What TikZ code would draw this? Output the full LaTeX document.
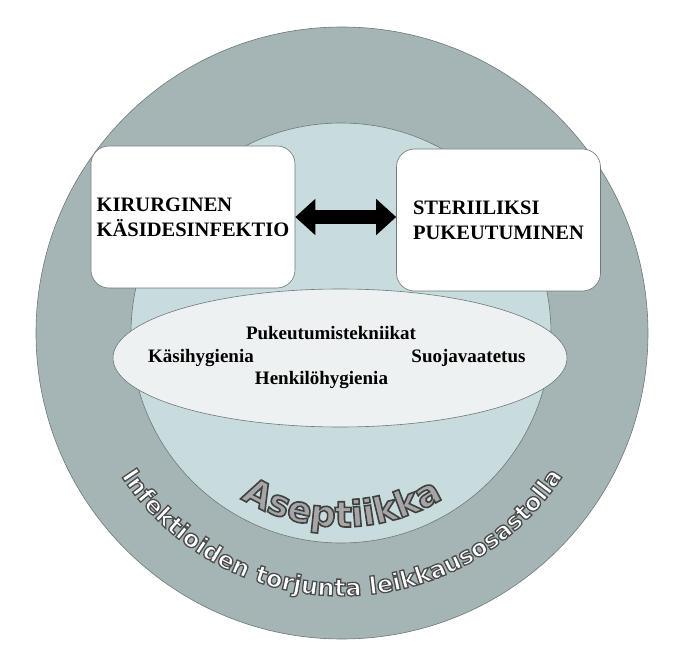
\documentclass[tikz,border=0pt]{standalone}
\usepackage{fontspec}
\setmainfont{Liberation Serif}
\newfontfamily\arcfont{DejaVu Sans}
\usetikzlibrary{arrows.meta,decorations.text}
\definecolor{ringgray}{HTML}{A5B5B5}
\definecolor{innerblue}{HTML}{C8DCDE}
\definecolor{ovalgray}{HTML}{EDF1F1}
\definecolor{edgegray}{HTML}{6E7878}
\definecolor{letterfill}{HTML}{A6A6A6}
\newcommand{\outlinedark}{\special{pdf:literal direct 2 Tr 1.6 w 0.25 0.25 0.25 RG}}
\newcommand{\outlinelight}{\special{pdf:literal direct 2 Tr 1.3 w 0.3 0.3 0.3 RG}}
\begin{document}
\begin{tikzpicture}[x=1pt, y=1pt,
    ring/.style={draw=edgegray, line width=0.6pt},
    topicbox/.style={ring, fill=white, rounded corners=18pt, align=left, minimum width=204pt, minimum height=142pt, font=\bfseries\fontsize{20.5}{25}\selectfont},
    topic/.style={anchor=base, font=\bfseries\fontsize{19}{21}\selectfont}]
    \useasboundingbox (-342,-339) rectangle (352,333);
    \draw[ring, fill=ringgray] (0,0) circle[radius=306];
    \draw[ring, fill=innerblue] (-1,0) circle[radius=210];
    \draw[ring, fill=ovalgray] (-2,-25) ellipse[x radius=227, y radius=69];
    \node[topicbox] (kir) at (-149,116) {KIRURGINEN\\KÄSIDESINFEKTIO};
    \node[topicbox] (ster) at (156.5,113) {STERIILIKSI\\PUKEUTUMINEN};
    \draw[line width=14pt, {Triangle[length=20pt,width=35pt]}-{Triangle[length=20pt,width=35pt]}] (kir.east) -- (kir.east -| ster.west);
    \node[topic] (puk) at (-11,-6) {Pukeutumistekniikat};
    \node[topic] (kasi) at (-141,-30) {Käsihygienia};
    \node[topic] (suoja) at (126.5,-30) {Suojavaatetus};
    \node[topic] (henk) at (-20.5,-51) {Henkilöhygienia};
    \path[decorate, decoration={text along path, text align=center, text color=letterfill,
        text={|\arcfont\bfseries\fontsize{36}{36}\selectfont\outlinedark|Aseptiikka}}]
        (200:194) arc[start angle=200, end angle=340, radius=194];
    \path[decorate, decoration={text along path, text align=center, text color=white,
        text={|\arcfont\bfseries\fontsize{24}{24}\selectfont\outlinelight|Infektioiden torjunta leikkausosastolla}}]
        (185:263) arc[start angle=185, end angle=355, radius=263];
\end{tikzpicture}
\end{document}
